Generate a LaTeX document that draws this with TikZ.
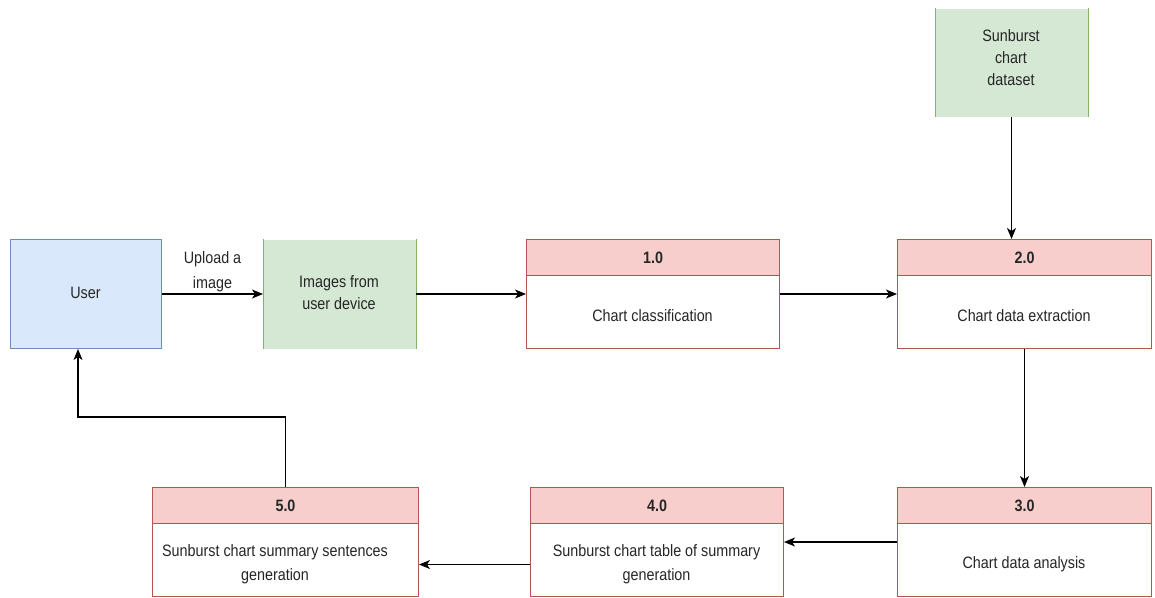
\documentclass[tikz,border=0pt]{standalone}
\usepackage{fontspec}
\setmainfont[FakeStretch=0.87]{Liberation Sans}
\usetikzlibrary{arrows.meta}
\definecolor{userfill}{HTML}{DAE8FC}
\definecolor{userline}{HTML}{6C8EBF}
\definecolor{storefill}{HTML}{D5E8D4}
\definecolor{storeline}{HTML}{82B366}
\definecolor{procfill}{HTML}{F8CECC}
\definecolor{procline}{HTML}{B85450}
\definecolor{ink}{HTML}{262626}
\begin{document}
\begin{tikzpicture}[x=1pt,y=-1pt,
  font=\fontsize{16.5}{22}\selectfont, text=ink,
  shell/.style={inner sep=0pt, anchor=north west, line width=1pt},
  userbox/.style={shell, fill=userfill, draw=userline},
  storebox/.style={shell, fill=storefill},
  procbox/.style={shell, fill=white, draw=procline},
  prochead/.style={inner sep=0pt, anchor=north, fill=procfill, draw=procline, line width=1pt, font=\fontsize{16.5}{22}\selectfont\bfseries, minimum height=36pt},
  caption/.style={align=center, inner sep=0pt},
  flow/.style={draw=black, line width=1.2pt, -{Stealth[length=11pt,width=9pt,inset=3pt]}}
]
\useasboundingbox (0,0) rectangle (1155,597);

% external entity
\node[userbox, minimum width=151pt, minimum height=109pt] (user) at (10,239) {};
\node[caption] (usert) at (85.5,293) {User};

% data stores (open on top and bottom)
\node[storebox, minimum width=152pt, minimum height=109pt] (store1) at (263,239) {};
\draw[storeline, line width=1pt] (store1.north west) -- (store1.south west)
  (store1.north east) -- (store1.south east);
\node[caption] (store1t) at (339,293) {Images from\\user device};

\node[storebox, minimum width=152pt, minimum height=108pt] (store2) at (935,8) {};
\draw[storeline, line width=1pt] (store2.north west) -- (store2.south west)
  (store2.north east) -- (store2.south east);
\node[caption] (store2t) at (1011,58) {Sunburst\\chart\\dataset};

% processes
\node[procbox, minimum width=253pt, minimum height=109pt] (p1) at (526,239) {};
\node[prochead, minimum width=253pt] (p1h) at (p1.north) {1.0};
\node[caption] (p1t) at (652.5,316) {Chart classification};

\node[procbox, minimum width=254pt, minimum height=109pt] (p2) at (897,239) {};
\node[prochead, minimum width=254pt] (p2h) at (p2.north) {2.0};
\node[caption] (p2t) at (1024,316) {Chart data extraction};

\node[procbox, minimum width=254pt, minimum height=109pt] (p3) at (897,487) {};
\node[prochead, minimum width=254pt] (p3h) at (p3.north) {3.0};
\node[caption] (p3t) at (1024,564) {Chart data analysis};

\node[procbox, minimum width=253pt, minimum height=109pt] (p4) at (530,487) {};
\node[prochead, minimum width=253pt] (p4h) at (p4.north) {4.0};
\node[caption, font=\fontsize{16.5}{24}\selectfont] (p4t) at (656.5,564) {Sunburst chart table of summary\\generation};

\node[procbox, minimum width=266pt, minimum height=109pt] (p5) at (152,487) {};
\node[prochead, minimum width=266pt] (p5h) at (p5.north) {5.0};
\node[caption, font=\fontsize{16.5}{24}\selectfont] (p5t) at (275,564) {Sunburst chart summary sentences\\generation};

% data flows
\draw[flow] (user.east) -- (store1.west)
  node[midway, yshift=22pt, caption, font=\fontsize{16.5}{25}\selectfont] (uplabel) {Upload a\\image};
\draw[flow] (store1.east) -- (p1.west);
\draw[flow] (p1.east) -- (p2.west);
\draw[flow] (store2.south) -- (store2.south |- p2.north);
\draw[flow] (p2.south) -- (p3.north);
\draw[flow] (p3.west) -- (p4.east);
\draw[flow] ([yshift=-22.5pt]p4.west) -- ([yshift=-22.5pt]p5.east);
\coordinate (bend) at (78,417);
\draw[flow] (p5.north) |- (bend) -- (bend |- user.south);
\end{tikzpicture}
\end{document}
